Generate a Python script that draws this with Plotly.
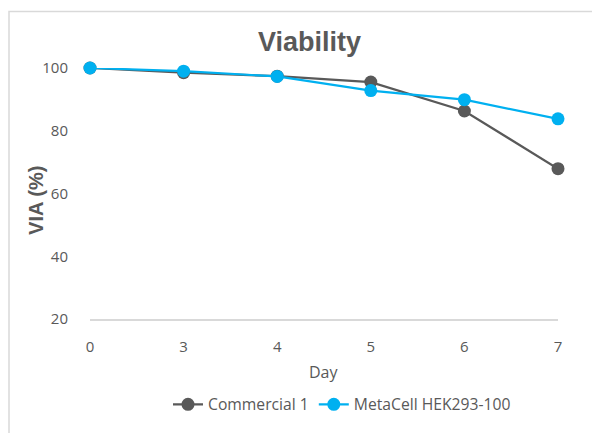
import plotly.graph_objects as go

days = ["0", "3", "4", "5", "6", "7"]
commercial_1 = [100.0, 98.5, 97.4, 95.5, 86.3, 67.9]
metacell = [100.0, 99.0, 97.3, 92.8, 89.9, 83.8]
y_ticks = [20, 40, 60, 80, 100]

GREY = "#595959"
BLUE = "#00B0F0"
TXT = "#595959"
FONT = "Open Sans"

OFF = 8  # browser body margin
W, H = 600 - OFF, 433 - OFF
# plot area in window pixels
X0, X1, Y0, Y1 = 90, 558, 68, 323
L, R, T, B = X0 - OFF, W - (X1 - OFF), Y0 - OFF, H - (Y1 - OFF)
pw, ph = W - L - R, H - T - B

def px_x(p):
    return (p - X0) / pw

def px_y(p):
    return (Y1 - p) / ph

fig = go.Figure()
fig.add_trace(go.Scatter(x=days, y=commercial_1, name="Commercial 1", mode="lines+markers",
                         line=dict(color=GREY, width=2.2),
                         marker=dict(color=GREY, size=13), cliponaxis=False))
fig.add_trace(go.Scatter(x=days, y=metacell, name="MetaCell HEK293-100", mode="lines+markers",
                         line=dict(color=BLUE, width=2.2),
                         marker=dict(color=BLUE, size=13), cliponaxis=False))

fig.update_layout(
    width=W, height=H,
    margin=dict(l=L, r=R, t=T, b=B),
    paper_bgcolor="white", plot_bgcolor="white",
    font=dict(family=FONT, size=15, color=TXT),
    showlegend=True,
    legend=dict(orientation="h", x=px_x(342), xanchor="center", y=px_y(410), yanchor="middle",
                font=dict(family=FONT, size=15.7, color=TXT), tracegroupgap=0),
    xaxis=dict(type="category", range=[0, 5], showline=True, linecolor="#d9d9d9", linewidth=1.5,
               showgrid=False, zeroline=False, ticks="", ticklabelstandoff=13,
               tickfont=dict(family=FONT, size=15, color=TXT)),
    yaxis=dict(range=[20, 100], tickvals=y_ticks, showgrid=False, zeroline=False, showline=False,
               ticks="", ticklabelstandoff=21,
               tickfont=dict(family=FONT, size=15, color=TXT)),
    shapes=[dict(type="rect", xref="paper", yref="paper",
                 x0=px_x(OFF + 1), x1=px_x(640), y0=px_y(470), y1=px_y(10.5),
                 line=dict(color="#d9d9d9", width=1.5), layer="below")],
    annotations=[
        dict(text="<b>Viability</b>", xref="paper", yref="paper", x=px_x(309), y=px_y(42),
             showarrow=False, xanchor="center", yanchor="middle",
             font=dict(family="Liberation Sans", size=27, color=TXT)),
        dict(text="<b>VIA (%)</b>", xref="paper", yref="paper", x=px_x(36), y=px_y(203),
             showarrow=False, xanchor="center", yanchor="middle", textangle=-90,
             font=dict(family="Liberation Sans", size=20, color=TXT)),
        dict(text="Day", xref="paper", yref="paper", x=px_x(324), y=px_y(377),
             showarrow=False, xanchor="center", yanchor="middle",
             font=dict(family=FONT, size=16, color=TXT)),
    ],
)

fig.write_html("out.html")
